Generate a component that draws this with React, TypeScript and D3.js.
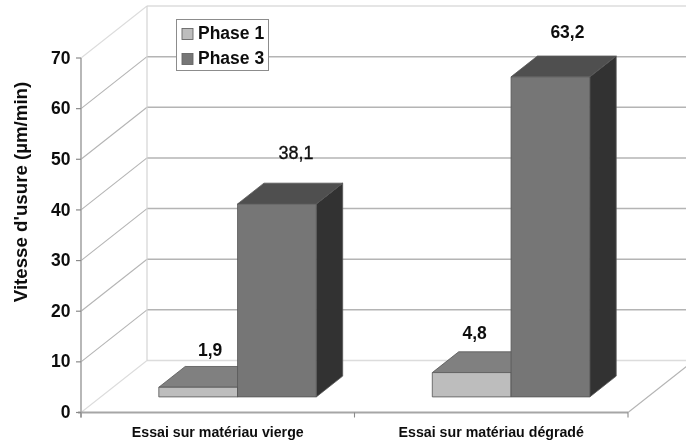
import React from "react";
import * as d3 from "d3";

const categories = ["Essai sur matériau vierge", "Essai sur matériau dégradé"];
const seriesNames = ["Phase 1", "Phase 3"];
const phase1 = [1.9, 4.8];
const phase3 = [38.1, 63.2];
const yTicks = [0, 10, 20, 30, 40, 50, 60, 70];
const yTitle = "Vitesse d'usure (µm/min)";

const W = 686, H = 443;
const FONT = "'Liberation Sans', Arial, sans-serif";
const DEPTH_X = 66, DEPTH_Y = -52;
const BAR_Z0 = 0.3, BAR_Z1 = 0.7;

const y = d3.scaleLinear().domain([0, 70]).range([412.5, 58]);
const x0 = d3.scaleBand<string>().domain(categories).range([81, 628]).paddingInner(0).paddingOuter(0);
const x1 = d3.scaleBand<string>().domain(seriesNames).range([58, 215.5]);

const P = (x: number, v: number, z: number): [number, number] => [x + DEPTH_X * z, y(v) + DEPTH_Y * z];
const poly = (pts: [number, number][]) => d3.line()(pts)! + "Z";

const palette = [
  { front: "#bdbdbd", top: "#808080", side: "#555555" },
  { front: "#767676", top: "#505050", side: "#333333" },
];
// label offsets, [series][category]
const labelOffsets = [
  [{ dx: 12, dy: -36 }, { dx: 3, dy: -38 }],
  [{ dx: 19, dy: -50 }, { dx: 17, dy: -43 }],
];

function Bar({ cat, series, value, si, ci }: { cat: string; series: string; value: number; si: number; ci: number }) {
  const xa = x0(cat)! + x1(series)!;
  const xb = xa + x1.bandwidth();
  const c = palette[si];
  const stroke = "#555";
  const f = (x: number, v: number) => P(x, v, BAR_Z0);
  const b = (x: number, v: number) => P(x, v, BAR_Z1);
  const fmt = d3.format(".1f")(value).replace(".", ",");
  const [tx, ty] = f((xa + xb) / 2, value);
  const off = labelOffsets[si][ci];
  const light = si === 1 && ci === 0;
  return (
    <g>
      <path d={poly([f(xb, 0), f(xb, value), b(xb, value), b(xb, 0)])} fill={c.side} stroke={stroke} strokeWidth={0.8} />
      <path d={poly([f(xa, value), f(xb, value), b(xb, value), b(xa, value)])} fill={c.top} stroke={stroke} strokeWidth={0.8} />
      <path d={poly([f(xa, 0), f(xb, 0), f(xb, value), f(xa, value)])} fill={c.front} stroke={stroke} strokeWidth={0.8} />
      <text x={tx + off.dx} y={ty + off.dy} textAnchor="middle"
        fontFamily={FONT} fontSize={light ? 18 : 17.5} fontWeight={light ? 400 : 700} fill="#111"
        stroke={light ? "#111" : "none"} strokeWidth={light ? 0.35 : 0} dominantBaseline="middle">{fmt}</text>
    </g>
  );
}

export default function App() {
  const xL = x0.range()[0], xR = x0.range()[1];
  const catEdges = [xL, x0(categories[1])!, xR];
  const gridColor = (t: number) => (t === 0 || t === 70 ? "#dcdcdc" : "#b4b4b4");
  return (
    <svg width={W} height={H} viewBox={`0 0 ${W} ${H}`} style={{ position: "absolute", left: 0, top: 0, background: "#fff" }}>
      <defs>
        <filter id="soft" x="-5%" y="-5%" width="110%" height="110%">
          <feGaussianBlur stdDeviation="0.45" />
        </filter>
      </defs>
      <rect width={W} height={H} fill="#fff" />
      <g filter="url(#soft)">
        {/* back wall and side wall grid */}
        {yTicks.map((t) => {
          const a = P(xL, t, 0), b = P(xL, t, 1), c = P(xR, t, 1);
          return (
            <g key={t}>
              <line x1={a[0]} y1={a[1]} x2={b[0]} y2={b[1]} stroke={gridColor(t)} strokeWidth={1.1} />
              <line x1={b[0]} y1={b[1]} x2={c[0]} y2={c[1]} stroke={gridColor(t)} strokeWidth={1.5} />
            </g>
          );
        })}
        <line x1={P(xL, 0, 1)[0]} y1={P(xL, 0, 1)[1]} x2={P(xL, 70, 1)[0]} y2={P(xL, 70, 1)[1]} stroke="#d4d4d4" strokeWidth={1.2} />
        <line x1={xR} y1={y(0)} x2={P(xR, 0, 1)[0]} y2={P(xR, 0, 1)[1]} stroke="#b4b4b4" strokeWidth={1.1} />

        {/* axes */}
        <line x1={xL} y1={y(70)} x2={xL} y2={y(0) + 5} stroke="#a6a6a6" strokeWidth={1.6} />
        <line x1={xL - 3} y1={y(0)} x2={xR} y2={y(0)} stroke="#a6a6a6" strokeWidth={1.8} />
        {catEdges.map((e, i) => (
          <line key={i} x1={e} y1={y(0)} x2={e} y2={y(0) + 5} stroke="#8a8a8a" strokeWidth={1.1} />
        ))}
        {yTicks.map((t) => (
          <g key={t}>
            <line x1={xL - 5} y1={y(t)} x2={xL} y2={y(t)} stroke="#8a8a8a" strokeWidth={1.2} />
            <text x={70.5} y={y(t) + 1} textAnchor="end" dominantBaseline="middle" fontFamily={FONT} fontSize={17.5} fontWeight={700} fill="#111">{t}</text>
          </g>
        ))}

        {/* bars */}
        {categories.map((cat, i) => (
          <g key={cat}>
            <Bar cat={cat} series={seriesNames[0]} value={phase1[i]} si={0} ci={i} />
            <Bar cat={cat} series={seriesNames[1]} value={phase3[i]} si={1} ci={i} />
          </g>
        ))}

        {/* category labels */}
        {categories.map((cat) => (
          <text key={cat} x={x0(cat)! + x0.bandwidth() / 2} y={433} textAnchor="middle" dominantBaseline="middle"
            fontFamily={FONT} fontSize={14.2} fontWeight={700} fill="#111">{cat}</text>
        ))}

        {/* axis title */}
        <text transform="translate(22,192) rotate(-90)" textAnchor="middle" dominantBaseline="middle"
          fontFamily={FONT} fontSize={18.7} fontWeight={700} fill="#111">{yTitle}</text>

        {/* legend */}
        <rect x={176.5} y={19.5} width={92} height={51} fill="#fff" stroke="#8c8c8c" strokeWidth={1} />
        {seriesNames.map((s, i) => (
          <g key={s}>
            <rect x={182} y={28.5 + i * 25} width={11} height={11} fill={palette[i].front} stroke="#666" strokeWidth={0.9} />
            <text x={198} y={34 + i * 25.5} dominantBaseline="middle" fontFamily={FONT} fontSize={17.5} fontWeight={700} fill="#111">{s}</text>
          </g>
        ))}
      </g>
    </svg>
  );
}
